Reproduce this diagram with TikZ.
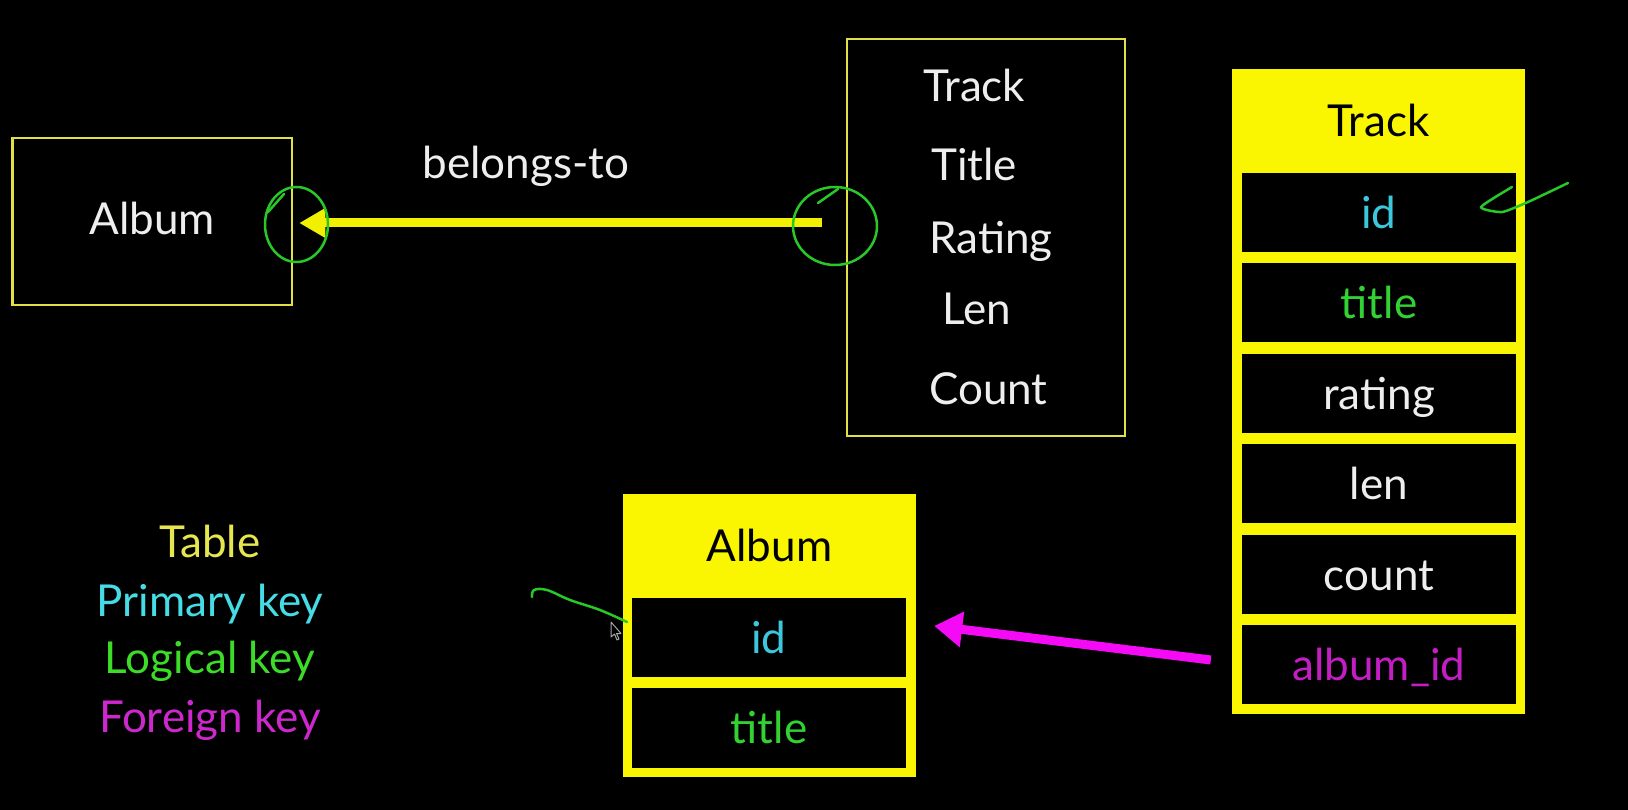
\documentclass[tikz,border=0pt]{standalone}
\usepackage{fontspec}
\setmainfont{Lato}
\usetikzlibrary{arrows.meta,calc}
\definecolor{entyel}{RGB}{225,225,70}
\definecolor{tyel}{RGB}{250,245,0}
\definecolor{ayel}{RGB}{240,240,0}
\definecolor{wtxt}{RGB}{238,238,238}
\definecolor{cyantxt}{RGB}{60,200,220}
\definecolor{greentxt}{RGB}{50,210,50}
\definecolor{magtxt}{RGB}{195,30,195}
\definecolor{legyel}{RGB}{230,230,80}
\definecolor{legcyan}{RGB}{70,220,230}
\definecolor{leggreen}{RGB}{60,220,40}
\definecolor{legmag}{RGB}{205,40,205}
\definecolor{magarrow}{RGB}{245,10,245}
\definecolor{pen}{RGB}{40,200,40}
\begin{document}
\begin{tikzpicture}[x=1pt,y=-1pt,
  bigfont/.style={font=\fontsize{44}{52}\selectfont},
  ent/.style={draw=entyel, line width=2.5pt, inner sep=0pt},
  txt/.style={bigfont, text=wtxt, inner sep=0pt},
  tbl/.style={fill=tyel, draw=none, inner sep=0pt},
  rowbox/.style={fill=black, draw=none, inner sep=0pt, minimum width=274pt,
     minimum height=79pt, bigfont, text height=40pt, text depth=8pt},
  yarrow/.style={draw=ayel, line width=9pt, -{Triangle[length=26pt,width=28pt]}},
  marrow/.style={draw=magarrow, line width=9pt, -{Triangle[length=28pt,width=34pt]}},
  penline/.style={draw=pen, line width=2.5pt, line cap=round, line join=round}
]
\fill[black] (0,0) rectangle (1628,810);
\useasboundingbox (0,0) rectangle (1628,810);

% ---------- entity: Album ----------
\node[ent, minimum width=279.5pt, minimum height=167pt, txt,
      text height=35pt, text depth=8pt] (album) at (152.25,221.5) {Album};

% ---------- entity: Track ----------
\node[ent, minimum width=278pt, minimum height=397pt] (trackent) at (986,237.5) {};
\node[txt, anchor=base west] (eTrack)  at (923,102) {Track};
\node[txt, anchor=base west] (eTitle)  at (931,181) {Title};
\node[txt, anchor=base west] (eRating) at (929,254) {Rating};
\node[txt, anchor=base west] (eLen)    at (942,324) {Len};
\node[txt, anchor=base west] (eCount)  at (929,404) {Count};

% ---------- belongs-to ----------
\node[txt, anchor=base] (belongs) at (526,179) {belongs-to};
\coordinate (arrS) at ($(trackent.west)+(-24,-14.5)$);
\coordinate (arrE) at ($(album.east)+(6,1.5)$);
\draw[yarrow] (arrS) -- (arrE);

% green circles
\draw[penline] (296.5,224.5) ellipse [x radius=31.5pt, y radius=37.5pt];
\draw[penline] (268,212) -- (284,194);
\draw[penline] (835,226) ellipse [x radius=42pt, y radius=39pt];
\draw[penline] (818,203) -- (838,189);

% ---------- table: Track ----------
\node[tbl, minimum width=293pt, minimum height=645pt] (ttab) at (1378.5,391.5) {};
\node[txt, text=black, anchor=base] (tHead) at (1378.5,137) {Track};
\node[rowbox, text=cyantxt]  (tId)     at (1379,212.5) {id};
\node[rowbox, text=greentxt] (tTitle)  at (1379,302.9) {title};
\node[rowbox, text=wtxt]     (tRating) at (1379,393.3) {rating};
\node[rowbox, text=wtxt]     (tLen)    at (1379,483.7) {len};
\node[rowbox, text=wtxt]     (tCount)  at (1379,574.1) {count};
\node[rowbox, text=magtxt]   (tAid)    at (1379,664.5) {album\_id};

% scribble next to track id
\draw[penline] plot[smooth, tension=0.35] coordinates
  {(1512,187) (1481,207) (1502,212) (1528,202) (1568,183)};

% ---------- table: Album ----------
\node[tbl, minimum width=293pt, minimum height=283pt] (atab) at (769.5,635.5) {};
\node[txt, text=black, anchor=base] (aHead) at (769.5,561) {Album};
\node[rowbox, text=cyantxt]  (aId)    at (769,637.5) {id};
\node[rowbox, text=greentxt, minimum height=80pt] (aTitle) at (769,727.5) {title};

% foreign key arrow
\coordinate (fkS) at ($(tAid.west)+(-31,-4.5)$);
\coordinate (fkE) at ($(aId.east)+(28,-11.5)$);
\draw[marrow] (fkS) -- (fkE);

% scribble next to album id
\draw[penline] plot[smooth, tension=0.6] coordinates
  {(532,597) (534,590) (547,590) (570,600) (600,610) (627,622)};
% mouse pointer
\draw[draw=gray!70, fill=black, line width=1pt, line join=round]
  (611,622) -- (611,637) -- (614.5,634) -- (617,640) -- (619,639) -- (616.5,633.5) -- (621,633.5) -- cycle;

% ---------- legend ----------
\node[txt, text=legyel,   anchor=base] (lTable)   at (210,557) {Table};
\node[txt, text=legcyan,  anchor=base] (lPrimary) at (210,616) {Primary key};
\node[txt, text=leggreen, anchor=base] (lLogical) at (210,673) {Logical key};
\node[txt, text=legmag,   anchor=base] (lForeign) at (210,732) {Foreign key};
\end{tikzpicture}
\end{document}
